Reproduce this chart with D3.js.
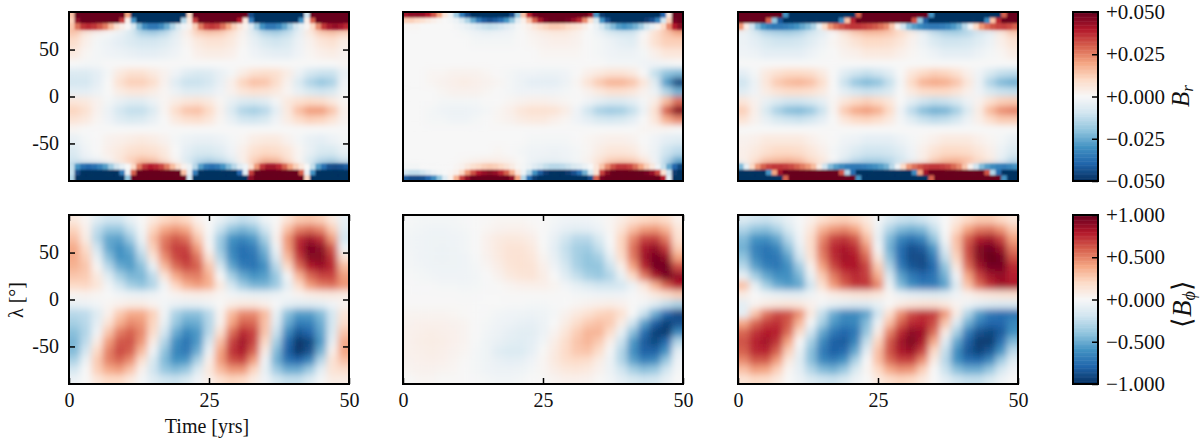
<!DOCTYPE html>
<html>
<head>
<meta charset="utf-8">
<script src="https://cdnjs.cloudflare.com/ajax/libs/d3/7.8.5/d3.min.js"></script>
<style>
  html, body { margin: 0; background: #fff; }
  text { font-family: "Liberation Serif", serif; fill: #111; }
</style>
</head>
<body>
<svg id="chart" width="1200" height="439"></svg>
<script>
// row edges in latitude, top row first
const latEdgesBr = [90,84,78,72,64,52,40,30,20,10,0,-10,-20,-30,-40,-52,-64,-72,-78,-84,-90];
const latEdgesBphi = [90,80,70,60,50,40,30,20,10,0,-10,-20,-30,-40,-50,-60,-70,-80,-90];

// B_r in units of 0.001.
// rows near the poles have 50 cells (1 yr each), the rest 25 (2 yrs each)
const brLeft = [
  [15,50,50,50,50,50,50,50,50,50,20,-50,-50,-50,-50,-50,-50,-50,-50,-50,-50,10,50,50,50,50,50,50,50,50,50,50,-45,-50,-50,-50,-50,-50,-50,-50,-50,-50,-10,50,50,50,50,50,50,50],
  [12,45,50,50,50,50,50,50,50,35,3,-30,-50,-50,-50,-50,-50,-50,-50,-50,-15,5,35,50,50,50,50,50,50,50,40,5,-35,-50,-50,-50,-50,-50,-50,-50,-50,-30,3,30,50,50,50,50,50,50],
  [14,28,36,38,36,32,26,16,8,3,0,-8,-22,-32,-36,-36,-32,-25,-16,-8,-2,2,12,26,34,36,34,28,20,12,6,2,-6,-18,-30,-36,-36,-33,-26,-18,-10,-4,1,10,24,36,42,44,42,38],
  [14,6,2,0,-3,-8,-16,-18,-14,-6,3,12,14,13,8,2,-7,-15,-17,-13,-5,5,13,15,12],
  [9,3,-1,-3,-5,-7,-9,-9,-7,-4,1,5,7,7,5,1,-4,-8,-10,-8,-3,2,6,8,4],
  [5,1,-1,-2,-3,-4,-5,-5,-4,-2,0,3,4,4,3,0,-2,-4,-5,-5,-2,1,3,4,2],
  [0,-1,-1,0,0,0,0,0,0,0,0,0,0,0,0,0,0,0,0,0,0,0,0,0,1],
  [-7,-7,-5,-1,5,8,8,5,2,-2,-6,-8,-7,-4,-1,4,8,9,8,4,-3,-9,-11,-11,-4],
  [-9,-9,-5,0,8,12,12,9,2,-6,-11,-11,-9,-4,3,11,15,14,9,2,-7,-15,-19,-16,-2],
  [-5,-5,-3,0,4,6,6,4,1,-3,-6,-6,-5,-2,2,6,8,7,5,1,-4,-8,-10,-8,-1],
  [6,5,2,-1,-4,-6,-6,-3,1,4,6,7,5,1,-4,-7,-8,-6,-1,5,8,10,9,5,1],
  [11,8,2,-3,-9,-12,-12,-7,1,9,14,15,10,2,-7,-15,-17,-14,-5,5,15,21,21,14,3],
  [7,5,1,-2,-6,-8,-7,-4,0,5,8,9,6,1,-4,-9,-10,-8,-2,4,9,12,11,7,2],
  [1,0,0,0,0,0,0,0,0,0,0,0,0,0,0,0,0,0,0,0,0,0,0,0,0],
  [-4,-1,0,2,3,4,5,4,2,-1,-3,-4,-4,-3,-1,1,4,5,5,2,-1,-4,-5,-3,-1],
  [-7,-2,0,3,5,8,9,8,5,0,-5,-8,-8,-6,-2,3,8,10,9,6,1,-4,-8,-8,-4],
  [-10,-5,-3,1,6,12,16,14,8,1,-7,-13,-15,-12,-6,3,12,17,16,9,1,-8,-14,-16,-11],
  [-12,-30,-38,-40,-38,-34,-28,-18,-10,-4,0,10,26,36,40,38,34,26,16,8,2,-3,-14,-28,-36,-38,-36,-30,-22,-14,-6,-2,8,22,36,42,42,38,30,20,12,5,0,-12,-28,-38,-44,-45,-44,-42],
  [-12,-45,-50,-50,-50,-50,-50,-50,-50,-35,-3,30,50,50,50,50,50,50,50,50,15,-5,-35,-50,-50,-50,-50,-50,-50,-50,-40,-5,35,50,50,50,50,50,50,50,50,30,-3,-30,-50,-50,-50,-50,-50,-50],
  [-15,-50,-50,-50,-50,-50,-50,-50,-50,-50,-20,50,50,50,50,50,50,50,50,50,50,-10,-50,-50,-50,-50,-50,-50,-50,-50,-50,-50,45,50,50,50,50,50,50,50,50,50,10,-50,-50,-50,-50,-50,-50,-50]
];

const brMiddle = [
  [42,45,45,44,40,32,20,6,-3,-18,-35,-45,-50,-50,-50,-50,-50,-50,-50,-45,-20,15,38,48,50,50,50,50,50,50,50,50,50,45,-30,-48,-50,-50,-50,-50,-50,-50,-50,-50,-50,-50,-40,5,50,50],
  [12,12,10,8,5,3,1,0,-1,-3,-8,-16,-26,-36,-42,-44,-42,-38,-30,-20,-6,3,14,30,42,48,50,50,50,48,44,38,24,8,-8,-30,-44,-50,-50,-50,-50,-50,-50,-48,-44,-34,-10,12,48,50],
  [1,1,1,0,0,0,0,0,0,-1,-2,-4,-6,-9,-11,-12,-11,-9,-6,-4,-1,1,3,6,9,11,13,13,12,10,8,6,3,0,-3,-9,-16,-22,-28,-30,-28,-24,-18,-10,-4,2,10,24,40,46],
  [0,0,0,0,0,-1,-3,-4,-3,-2,0,2,4,5,5,3,0,-3,-8,-10,-10,0,8,14,20],
  [0,0,0,0,0,0,-1,-1,-1,-1,0,1,2,3,3,2,0,-1,-3,-5,-6,1,8,12,12],
  [0,0,0,0,0,0,0,0,0,0,0,0,1,1,1,1,0,-1,-2,-3,-3,-1,3,6,6],
  [0,0,0,0,0,0,0,0,0,0,0,0,0,0,0,0,0,0,-1,-1,-1,-2,-2,-1,0],
  [0,0,1,1,2,2,2,1,0,-1,-2,-2,-3,-3,-2,0,3,5,7,7,5,0,-12,-20,-22],
  [0,0,1,2,3,4,3,2,1,-1,-3,-5,-5,-5,-3,1,7,13,17,17,14,6,-6,-28,-46],
  [0,0,0,1,2,2,2,1,0,-1,-2,-2,-2,-2,-1,0,2,5,8,8,6,2,-3,-15,-24],
  [0,0,0,-1,-1,-1,-1,0,0,1,2,3,3,2,1,0,-2,-5,-7,-7,-5,-1,4,16,28],
  [0,0,-1,-2,-3,-3,-2,-1,1,3,6,8,8,7,4,-2,-10,-16,-18,-17,-12,-3,8,30,46],
  [0,0,-1,-1,-2,-2,-1,0,1,2,4,5,5,3,1,-2,-5,-8,-9,-8,-5,0,6,18,24],
  [0,0,0,0,0,0,0,0,0,0,0,0,0,0,0,0,0,0,0,0,0,1,1,1,0],
  [0,0,0,0,0,0,0,0,0,0,0,-1,-1,-1,-1,0,1,2,3,3,2,0,-2,-5,-6],
  [0,0,0,0,0,0,0,0,1,0,-1,-2,-2,-3,-2,-1,1,4,6,6,5,1,-3,-10,-13],
  [0,0,0,0,0,1,2,3,3,2,0,-3,-4,-4,-3,-1,2,7,12,13,12,6,-2,-14,-26],
  [-1,-1,-1,0,0,0,0,0,0,1,2,5,8,10,12,13,12,10,7,4,1,-1,-3,-6,-9,-12,-14,-14,-13,-11,-8,-6,-3,0,6,14,24,32,36,36,34,28,20,12,5,-2,-12,-26,-40,-46],
  [-10,-12,-12,-10,-6,-3,-1,0,1,3,10,22,32,40,44,46,44,38,30,18,6,-3,-14,-30,-42,-48,-50,-50,-50,-48,-44,-38,-24,-8,8,34,46,50,50,50,50,50,50,48,44,34,8,-10,-48,-50],
  [-42,-45,-45,-44,-40,-32,-20,-6,3,18,35,45,50,50,50,50,50,50,50,45,20,-15,-38,-48,-50,-50,-50,-50,-50,-50,-50,-50,-50,-45,30,48,50,50,50,50,50,50,50,50,50,50,40,-5,-50,-50]
];

const brRight = [
  [50,50,50,50,50,50,50,50,-30,-50,-50,-50,-50,-50,-50,-50,-50,-50,-50,-50,-50,30,50,50,50,50,50,50,50,50,50,50,50,50,-30,-50,-50,-50,-50,-50,-50,-50,-50,-50,-50,-50,-50,30,50,50],
  [50,50,50,50,50,30,-20,-42,-50,-50,-50,-50,-50,-50,-50,-50,-50,-50,-32,15,38,50,50,50,50,50,50,50,50,50,50,32,-20,-42,-50,-50,-50,-50,-50,-50,-50,-50,-50,-50,-32,15,38,50,50,50],
  [22,4,-10,-22,-30,-34,-36,-36,-35,-33,-30,-26,-22,-16,-4,10,22,28,32,35,36,36,35,33,31,28,24,14,2,-10,-22,-28,-32,-35,-36,-36,-35,-33,-29,-24,-14,-2,10,22,28,32,34,35,33,30],
  [-3,-8,-14,-16,-17,-15,-10,-6,0,7,13,16,16,14,10,4,-4,-12,-16,-17,-15,-10,-5,5,13],
  [-3,-5,-8,-10,-10,-9,-6,-3,1,4,7,10,10,9,6,2,-3,-7,-10,-10,-9,-6,-3,3,7],
  [-2,-3,-5,-5,-5,-5,-3,-1,0,2,3,5,5,5,3,1,-1,-3,-5,-5,-5,-3,-1,1,4],
  [0,0,0,0,0,0,0,0,0,0,0,0,0,0,0,0,0,0,0,0,0,0,0,0,0],
  [-5,-1,5,8,10,10,9,5,0,-6,-10,-12,-10,-6,0,6,10,12,11,8,3,-2,-8,-12,-13],
  [-10,-3,6,13,16,17,15,9,0,-11,-19,-22,-20,-12,-1,10,17,19,18,14,6,-3,-15,-22,-24],
  [-6,-2,4,7,9,9,8,5,0,-5,-9,-11,-10,-7,0,5,9,10,10,7,3,-2,-8,-11,-12],
  [6,2,-4,-7,-10,-10,-8,-5,1,6,10,12,10,6,0,-5,-10,-12,-11,-8,-3,2,8,12,13],
  [12,3,-8,-16,-21,-22,-19,-11,1,13,19,21,18,10,-2,-13,-21,-24,-23,-17,-7,4,16,23,25],
  [7,2,-4,-8,-10,-11,-9,-5,0,6,10,11,9,5,-1,-6,-11,-13,-12,-9,-3,3,9,13,13],
  [0,0,0,0,0,0,0,0,0,0,0,0,0,0,0,0,0,0,0,0,0,0,0,0,0],
  [2,3,5,5,5,5,3,1,0,-2,-3,-5,-5,-5,-3,-1,1,3,5,5,5,3,1,-1,-4],
  [3,5,8,10,10,9,6,3,-1,-4,-7,-10,-10,-9,-6,-2,3,7,10,10,9,6,3,-3,-7],
  [3,8,14,16,17,15,10,6,0,-7,-13,-16,-16,-14,-10,-4,4,12,16,17,15,10,5,-5,-13],
  [-22,-4,10,22,30,34,36,36,35,33,30,26,22,16,4,-10,-22,-28,-32,-35,-36,-36,-35,-33,-31,-28,-24,-14,-2,10,22,28,32,35,36,36,35,33,29,24,14,2,-10,-22,-28,-32,-34,-35,-33,-30],
  [-50,-50,-50,-50,-50,-30,20,42,50,50,50,50,50,50,50,50,50,50,32,-15,-38,-50,-50,-50,-50,-50,-50,-50,-50,-50,-50,-32,20,42,50,50,50,50,50,50,50,50,50,50,32,-15,-38,-50,-50,-50],
  [-50,-50,-50,-50,-50,-50,-50,-50,30,50,50,50,50,50,50,50,50,50,50,50,50,-30,-50,-50,-50,-50,-50,-50,-50,-50,-50,-50,-50,-50,30,50,50,50,50,50,50,50,50,50,50,50,50,-30,-50,-50]
];

// <B_phi> in units of 0.01, bottom row of panels
const bphiLeft = [
  [10,2,-12,-20,-20,-8,1,10,20,24,20,5,0,-8,-18,-24,-20,-5,1,14,26,28,24,10,-8],
  [22,5,-25,-38,-38,-22,-2,22,38,44,38,16,0,-22,-40,-46,-40,-20,2,30,50,55,48,25,-12],
  [30,8,-30,-52,-54,-36,-6,30,52,62,55,28,-2,-36,-60,-66,-58,-34,4,44,74,84,74,42,-18],
  [38,18,-20,-52,-62,-50,-18,24,55,70,68,42,2,-38,-66,-76,-70,-46,-5,42,78,95,90,62,-5],
  [38,24,-8,-42,-60,-56,-30,12,46,66,72,54,14,-30,-62,-76,-74,-54,-14,32,70,92,92,72,15],
  [35,28,2,-28,-50,-56,-42,-8,32,56,66,60,28,-16,-52,-70,-74,-62,-28,18,56,80,86,76,32],
  [28,26,10,-12,-34,-46,-46,-26,12,38,50,52,36,0,-34,-52,-60,-56,-38,-2,34,58,68,68,42],
  [20,21,13,-3,-20,-34,-40,-30,-3,21,36,42,36,10,-18,-36,-46,-46,-36,-10,18,42,52,55,44],
  [3,4,2,0,-3,-6,-7,-5,-1,3,6,7,6,2,-3,-6,-8,-8,-6,-2,3,7,9,10,8],
  [-8,-6,-3,2,5,8,8,3,-3,-7,-9,-8,-5,1,7,10,10,6,-1,-9,-12,-12,-10,-4,3],
  [-28,-26,-13,5,26,38,38,24,-3,-32,-42,-42,-28,3,32,48,48,32,-8,-42,-56,-56,-44,-18,13],
  [-34,-28,-10,14,36,48,44,22,-8,-38,-52,-50,-30,4,40,60,58,30,-12,-50,-70,-68,-50,-18,18],
  [-42,-30,-4,28,52,60,48,18,-18,-50,-66,-58,-28,16,56,76,68,28,-22,-64,-86,-80,-54,-14,28],
  [-46,-26,8,42,62,64,44,8,-30,-62,-74,-58,-18,30,68,84,68,20,-34,-78,-98,-92,-58,-8,38],
  [-44,-18,20,50,66,60,32,-4,-40,-66,-72,-50,-6,40,72,82,60,8,-44,-82,-98,-88,-48,5,40],
  [-32,-6,26,50,58,46,16,-16,-44,-60,-58,-32,6,42,64,68,42,-4,-48,-74,-80,-66,-28,14,30],
  [-18,0,24,38,42,28,4,-20,-38,-44,-38,-14,10,32,44,44,22,-8,-36,-50,-50,-36,-10,14,18],
  [-6,0,12,20,20,10,-2,-12,-20,-22,-16,-4,6,16,22,20,8,-4,-18,-24,-24,-14,-2,8,8]
];

const bphiMiddle = [
  [-1,-2,-2,-2,-2,-1,0,1,2,2,2,1,0,-2,-4,-5,-4,-2,2,8,15,20,22,18,6],
  [-2,-3,-4,-4,-3,-2,0,2,4,5,5,3,0,-4,-9,-11,-10,-6,2,14,30,42,44,34,12],
  [-3,-4,-5,-5,-4,-3,0,5,9,11,10,7,0,-8,-20,-28,-28,-16,0,22,48,68,70,52,16],
  [-3,-4,-5,-6,-5,-3,0,5,10,14,14,10,1,-10,-24,-34,-36,-24,-2,22,55,82,88,70,25],
  [-2,-4,-5,-6,-5,-4,-1,4,9,14,15,12,3,-8,-22,-34,-40,-34,-10,18,52,84,96,88,40],
  [-2,-3,-4,-5,-5,-4,-2,2,7,13,15,14,6,-4,-18,-32,-40,-40,-22,6,40,76,96,98,65],
  [-1,-2,-3,-4,-4,-4,-3,0,4,10,13,14,8,0,-12,-24,-34,-38,-30,-8,20,52,82,96,88],
  [0,-1,-1,-2,-2,-3,-2,-1,1,3,5,6,6,3,-3,-9,-15,-20,-20,-18,-6,12,35,60,80],
  [0,0,0,0,0,-1,-1,0,0,1,1,1,1,1,0,-2,-3,-4,-5,-4,-1,3,10,18,25],
  [1,1,1,1,1,1,0,0,0,-1,-1,-2,-2,-1,0,2,4,6,7,5,1,-3,-12,-24,-32],
  [3,3,3,3,2,1,0,-1,-3,-4,-5,-6,-5,-2,4,10,16,22,24,16,0,-22,-50,-78,-90],
  [4,5,5,5,4,3,0,-2,-4,-6,-8,-9,-6,0,8,18,26,30,26,8,-20,-54,-82,-94,-88],
  [5,6,7,6,5,3,0,-3,-6,-9,-11,-11,-6,3,13,25,34,34,18,-8,-42,-76,-94,-96,-64],
  [5,7,8,7,5,3,-1,-5,-8,-11,-12,-10,-3,7,18,28,34,26,6,-22,-58,-84,-92,-78,-30],
  [5,6,7,6,4,2,-2,-5,-12,-15,-15,-9,1,9,19,27,29,18,-2,-30,-62,-82,-82,-60,-10],
  [4,5,6,5,3,1,-2,-5,-8,-10,-9,-4,2,10,17,20,18,8,-6,-30,-54,-68,-64,-38,-4],
  [3,4,4,3,2,0,-2,-4,-6,-6,-5,-2,2,7,11,12,10,4,-6,-20,-34,-42,-38,-20,-2],
  [1,2,2,1,1,0,-1,-2,-3,-3,-2,0,1,3,5,5,4,1,-3,-10,-16,-20,-18,-8,0]
];

const bphiRight = [
  [-14,-20,-22,-16,-8,-1,6,16,22,24,20,10,-2,-14,-22,-24,-20,-10,0,10,20,26,26,20,12],
  [-30,-40,-42,-32,-16,-2,12,34,44,48,40,20,-6,-30,-44,-48,-44,-24,0,20,40,52,54,44,26],
  [-44,-60,-62,-52,-28,-4,18,48,68,72,62,32,-8,-44,-66,-74,-66,-40,-2,30,60,80,84,68,40],
  [-48,-68,-74,-66,-42,-10,18,54,76,82,74,46,-2,-48,-76,-88,-84,-58,-12,28,66,92,98,86,52],
  [-40,-64,-74,-72,-54,-20,14,50,74,84,80,58,10,-42,-76,-90,-90,-70,-24,22,64,92,100,96,64],
  [-28,-54,-68,-72,-62,-36,4,40,66,80,82,68,26,-30,-70,-86,-90,-78,-40,10,56,84,96,96,76],
  [-8,-34,-52,-62,-62,-46,-8,26,52,68,76,70,38,-16,-54,-72,-80,-74,-48,-4,40,68,84,88,78],
  [30,-8,-34,-50,-56,-52,-20,16,42,60,72,72,50,-5,-44,-62,-70,-70,-54,-13,28,56,74,84,82],
  [8,0,-5,-8,-10,-10,-5,2,7,10,13,14,11,2,-6,-10,-12,-13,-11,-4,4,9,12,14,15],
  [-10,3,8,11,12,10,5,-3,-8,-11,-13,-13,-8,1,8,12,14,14,10,3,-5,-10,-13,-14,-14],
  [-10,28,54,66,64,46,10,-24,-50,-64,-64,-54,-20,16,46,66,74,70,44,8,-30,-56,-72,-76,-74],
  [38,58,70,74,62,34,-2,-34,-58,-68,-66,-44,-6,30,60,76,78,66,28,-14,-48,-70,-80,-80,-66],
  [58,72,80,78,56,18,-20,-52,-72,-80,-72,-38,8,50,76,90,86,56,8,-34,-70,-88,-92,-84,-60],
  [64,78,84,72,40,0,-34,-64,-82,-84,-66,-24,22,62,84,94,82,38,-12,-52,-82,-96,-96,-76,-44],
  [60,76,78,60,24,-8,-42,-70,-82,-78,-52,-10,30,64,82,86,68,20,-24,-62,-86,-94,-86,-60,-26],
  [48,62,62,42,10,-12,-42,-64,-70,-60,-32,0,30,56,68,68,46,8,-28,-60,-76,-78,-64,-36,-12],
  [30,42,40,24,2,-10,-30,-44,-48,-38,-16,2,20,38,46,44,24,0,-22,-42,-50,-50,-38,-18,-4],
  [14,20,18,10,0,-6,-14,-20,-22,-16,-6,0,10,18,22,20,10,0,-10,-20,-24,-24,-16,-6,0]
];

// tick labels
const timeTicks = [0, 25, 50];
const latTicks = [50, 0, -50];
const brBarTicks = [50, 25, 0, -25, -50];
const brBarLabels = ["+0.050", "+0.025", "+0.000", "\u22120.025", "\u22120.050"];
const bphiBarTicks = [100, 50, 0, -50, -100];
const bphiBarLabels = ["+1.000", "+0.500", "+0.000", "\u22120.500", "\u22121.000"];

const panelLefts = [69, 403, 738];
const panelW = 280;
const topRow = [12, 181];
const bottomRow = [215, 384];

const svg = d3.select("#chart");
const defs = svg.append("defs");

// blur stands in for the smooth shading of the original image
function addBlur(id, dev) {
    defs.append("filter").attr("id", id)
        .attr("filterUnits", "userSpaceOnUse")
        .attr("x", 0).attr("y", 0).attr("width", 1200).attr("height", 439)
      .append("feGaussianBlur").attr("stdDeviation", dev);
}
addBlur("softBr", "3.5 3.2");
addBlur("softCap", "1 1");
addBlur("softBphi", "3.5 3.5");

// same stops as the usual RdBu map, red for positive values
function rdbu(maxVal) {
    const stops = d3.schemeRdBu[11];
    return d3.scaleLinear()
        .domain(stops.map((c, i) => maxVal - i * maxVal / 5))
        .range(stops)
        .clamp(true);
}
const brColor = rdbu(50);
const bphiColor = rdbu(100);

function drawCells(parent, cells, x, y, latEdges, nRows, color, filter) {
    // edge cells run past the frame so the blur doesn't fade to white there
    parent.append("g").attr("filter", "url(#" + filter + ")")
      .selectAll("rect")
      .data(cells)
      .join("rect")
        .attr("x", d => x(d.t0) - (d.t0 === 0 ? 20 : 0))
        .attr("width", d => x(d.t1) - x(d.t0) + (d.t0 === 0 || d.t1 === 50 ? 20 : 0) + 0.4)
        .attr("y", d => y(latEdges[d.i]) - (d.i === 0 ? 20 : 0))
        .attr("height", d => y(latEdges[d.i + 1]) - y(latEdges[d.i]) + (d.i === 0 || d.i === nRows - 1 ? 20 : 0) + 0.4)
        .attr("fill", d => color(d.v));
}

function drawPanel(id, left, yRange, rows, latEdges, color, filter, opts) {
    const x = d3.scaleLinear().domain([0, 50]).range([left, left + panelW]);
    const y = d3.scaleLinear().domain([90, -90]).range(yRange);
    const g = svg.append("g").attr("id", id);

    g.append("clipPath").attr("id", id + "clip")
      .append("rect")
        .attr("x", left).attr("y", yRange[0])
        .attr("width", panelW).attr("height", yRange[1] - yRange[0]);

    const cells = rows.flatMap((row, i) => row.map((v, j) => ({
        v: v, i: i, t0: j * 50 / row.length, t1: (j + 1) * 50 / row.length, fine: row.length === 50
    })));

    const img = g.append("g").attr("clip-path", "url(#" + id + "clip)");
    drawCells(img, cells, x, y, latEdges, rows.length, color, filter);
    // polar rows are sharp, so they go on top with less blur
    drawCells(img, cells.filter(d => d.fine), x, y, latEdges, rows.length, color, "softCap");

    const bottom = yRange[1];
    if (opts.yTicks) {
        g.append("g").attr("transform", "translate(" + left + ",0)")
            .call(d3.axisLeft(y).tickValues(latTicks).tickSize(-6).tickPadding(10).tickFormat(d => d))
            .call(styleAxis);
        g.append("g").attr("transform", "translate(" + (left + panelW) + ",0)")
            .call(d3.axisRight(y).tickValues(latTicks).tickSize(-6).tickFormat(""))
            .call(styleAxis);
    }
    if (opts.xTicks) {
        g.append("g").attr("transform", "translate(0," + bottom + ")")
            .call(d3.axisBottom(x).tickValues(timeTicks).tickSize(-6).tickPadding(9).tickFormat(d => d))
            .call(styleAxis);
        g.append("g").attr("transform", "translate(0," + yRange[0] + ")")
            .call(d3.axisTop(x).tickValues(timeTicks).tickSize(-6).tickFormat(""))
            .call(styleAxis);
    }

    g.append("rect")
        .attr("x", left).attr("y", yRange[0])
        .attr("width", panelW).attr("height", yRange[1] - yRange[0])
        .attr("fill", "none").attr("stroke", "#000").attr("stroke-width", 2);
}

function styleAxis(sel) {
    sel.select(".domain").remove();
    sel.attr("font-family", null).attr("font-size", null);
    sel.selectAll("line").attr("stroke", "#000").attr("stroke-width", 1.5);
    sel.selectAll("text").style("font-size", "20px").attr("fill", "#111");
}

function drawBar(id, yRange, color, ticks, labels, maxVal) {
    const left = 1073, w = 25;
    const y = d3.scaleLinear().domain([maxVal, -maxVal]).range(yRange);
    const steps = d3.range(128);
    const stepVal = d3.scaleLinear().domain([0, 127]).range([maxVal, -maxVal]);
    const band = d3.scaleBand().domain(steps).range(yRange);
    const g = svg.append("g").attr("id", id);

    g.selectAll("rect.step")
      .data(steps)
      .join("rect").attr("class", "step")
        .attr("x", left).attr("width", w)
        .attr("y", d => band(d)).attr("height", band.bandwidth() + 0.5)
        .attr("fill", d => color(stepVal(d)));

    g.append("g").attr("transform", "translate(" + (left + w) + ",0)")
        .call(d3.axisRight(y).tickValues(ticks).tickSize(-6).tickPadding(8)
            .tickFormat((d, i) => labels[i]))
        .call(styleAxis)
        .call(a => a.selectAll("text").style("font-size", "21px"));

    g.append("rect")
        .attr("x", left).attr("y", yRange[0])
        .attr("width", w).attr("height", yRange[1] - yRange[0])
        .attr("fill", "none").attr("stroke", "#000").attr("stroke-width", 2);
}

drawPanel("brA", panelLefts[0], topRow, brLeft, latEdgesBr, brColor, "softBr", { yTicks: true });
drawPanel("brB", panelLefts[1], topRow, brMiddle, latEdgesBr, brColor, "softBr", {});
drawPanel("brC", panelLefts[2], topRow, brRight, latEdgesBr, brColor, "softBr", {});
drawPanel("bpA", panelLefts[0], bottomRow, bphiLeft, latEdgesBphi, bphiColor, "softBphi", { yTicks: true, xTicks: true });
drawPanel("bpB", panelLefts[1], bottomRow, bphiMiddle, latEdgesBphi, bphiColor, "softBphi", { xTicks: true });
drawPanel("bpC", panelLefts[2], bottomRow, bphiRight, latEdgesBphi, bphiColor, "softBphi", { xTicks: true });

drawBar("barBr", topRow, brColor, brBarTicks, brBarLabels, 50);
drawBar("barBphi", bottomRow, bphiColor, bphiBarTicks, bphiBarLabels, 100);

// axis titles
svg.append("text")
    .attr("x", 207).attr("y", 433)
    .attr("text-anchor", "middle").style("font-size", "20px")
    .text("Time [yrs]");

svg.append("text")
    .attr("transform", "translate(23,300) rotate(-90)")
    .attr("text-anchor", "middle").style("font-size", "20px")
    .text("\u03bb [\u00b0]");

const brTitle = svg.append("text")
    .attr("transform", "translate(1189,96) rotate(-90)")
    .attr("text-anchor", "middle").style("font-size", "25px").style("font-style", "italic");
brTitle.append("tspan").text("B");
brTitle.append("tspan").attr("dy", 4).style("font-size", "17px").text("r");

const bphiTitle = svg.append("text")
    .attr("transform", "translate(1191,304) rotate(-90)")
    .attr("text-anchor", "middle").style("font-size", "27px");
bphiTitle.append("tspan").text("\u27e8");
bphiTitle.append("tspan").style("font-style", "italic").text("B");
bphiTitle.append("tspan").attr("dy", 4).style("font-size", "18px").style("font-style", "italic").text("\u03d5");
bphiTitle.append("tspan").attr("dy", -4).text("\u27e9");
</script>
</body>
</html>
